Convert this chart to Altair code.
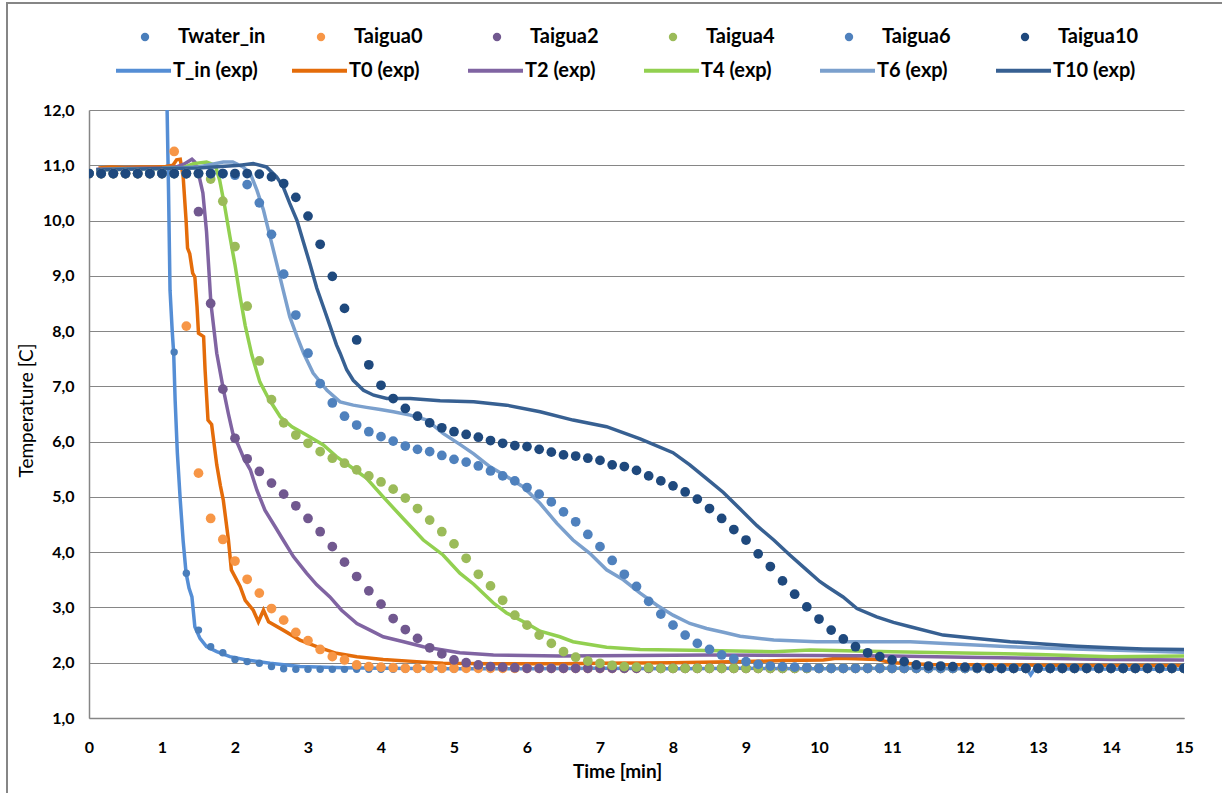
import altair as alt
import pandas as pd

# ---------------- dot (model) series: one value every 10 s ----------------
dot_time_s = [0, 10, 20, 30, 40, 50, 60, 70, 80, 90,
              100, 110, 120, 130, 140, 150, 160, 170, 180, 190,
              200, 210, 220, 230, 240, 250, 260, 270, 280, 290,
              300, 310, 320, 330, 340, 350, 360, 370, 380, 390,
              400, 410, 420, 430, 440, 450, 460, 470, 480, 490,
              500, 510, 520, 530, 540, 550, 560, 570, 580, 590,
              600, 610, 620, 630, 640, 650, 660, 670, 680, 690,
              700, 710, 720, 730, 740, 750, 760, 770, 780, 790,
              800, 810, 820, 830, 840, 850, 860, 870, 880, 890,
              900]

twater_in = [10.85, 10.85, 10.85, 10.85, 10.85, 10.85, 10.85, 7.62, 3.62, 2.59,
             2.29, 2.18, 2.06, 2.02, 1.99, 1.93, 1.89, 1.88, 1.88, 1.88,
             1.88, 1.88, 1.88, 1.88, 1.88, 1.88, 1.88, 1.88, 1.88, 1.88,
             1.88, 1.89, 1.89, 1.89, 1.89, 1.89, 1.89, 1.89, 1.89, 1.89,
             1.89, 1.89, 1.89, 1.89, 1.89, 1.89, 1.89, 1.89, 1.89, 1.89,
             1.89, 1.89, 1.89, 1.89, 1.89, 1.89, 1.89, 1.89, 1.89, 1.89,
             1.90, 1.90, 1.90, 1.90, 1.90, 1.90, 1.90, 1.90, 1.90, 1.90,
             1.90, 1.90, 1.90, 1.90, 1.90, 1.90, 1.90, 1.90, 1.90, 1.90,
             1.90, 1.90, 1.90, 1.90, 1.90, 1.90, 1.90, 1.90, 1.90, 1.90,
             1.90]

taigua0 = [10.85, 10.85, 10.85, 10.85, 10.85, 10.85, 10.85, 11.25, 8.09, 5.43,
           4.61, 4.23, 3.84, 3.51, 3.26, 2.98, 2.77, 2.55, 2.40, 2.24,
           2.11, 2.05, 1.96, 1.93, 1.92, 1.91, 1.90, 1.90, 1.90, 1.90,
           1.90, 1.90, 1.90, 1.90, 1.90, 1.90, 1.90, 1.90, 1.90, 1.90,
           1.90, 1.90, 1.90, 1.90, 1.90, 1.90, 1.90, 1.90, 1.90, 1.90,
           1.90, 1.90, 1.90, 1.90, 1.90, 1.90, 1.90, 1.90, 1.90, 1.90,
           1.90, 1.90, 1.90, 1.90, 1.90, 1.90, 1.90, 1.90, 1.90, 1.90,
           1.90, 1.90, 1.90, 1.90, 1.90, 1.90, 1.90, 1.90, 1.90, 1.90,
           1.90, 1.90, 1.90, 1.90, 1.90, 1.90, 1.90, 1.90, 1.90, 1.90,
           1.90]

taigua2 = [10.85, 10.85, 10.85, 10.85, 10.85, 10.85, 10.85, 10.85, 10.85, 10.16,
           8.50, 6.95, 6.06, 5.69, 5.46, 5.25, 5.05, 4.84, 4.61, 4.37,
           4.10, 3.82, 3.56, 3.30, 3.06, 2.80, 2.60, 2.44, 2.27, 2.16,
           2.05, 2.00, 1.96, 1.93, 1.92, 1.91, 1.90, 1.90, 1.90, 1.90,
           1.90, 1.90, 1.90, 1.90, 1.90, 1.90, 1.90, 1.90, 1.90, 1.90,
           1.90, 1.90, 1.90, 1.90, 1.90, 1.90, 1.90, 1.90, 1.90, 1.90,
           1.90, 1.90, 1.90, 1.90, 1.90, 1.90, 1.90, 1.90, 1.90, 1.90,
           1.90, 1.90, 1.90, 1.90, 1.90, 1.90, 1.90, 1.90, 1.90, 1.90,
           1.90, 1.90, 1.90, 1.90, 1.90, 1.90, 1.90, 1.90, 1.90, 1.90,
           1.90]

taigua4 = [10.85, 10.85, 10.85, 10.85, 10.85, 10.85, 10.85, 10.85, 10.85, 10.85,
           10.75, 10.35, 9.53, 8.45, 7.46, 6.76, 6.34, 6.12, 5.97, 5.82,
           5.70, 5.61, 5.49, 5.38, 5.27, 5.14, 4.98, 4.79, 4.58, 4.37,
           4.15, 3.89, 3.60, 3.39, 3.13, 2.86, 2.68, 2.50, 2.35, 2.20,
           2.10, 2.03, 1.99, 1.95, 1.93, 1.92, 1.91, 1.90, 1.90, 1.90,
           1.90, 1.90, 1.90, 1.90, 1.90, 1.90, 1.90, 1.90, 1.90, 1.90,
           1.90, 1.90, 1.90, 1.90, 1.90, 1.90, 1.90, 1.90, 1.90, 1.90,
           1.90, 1.90, 1.90, 1.90, 1.90, 1.90, 1.90, 1.90, 1.90, 1.90,
           1.90, 1.90, 1.90, 1.90, 1.90, 1.90, 1.90, 1.90, 1.90, 1.90,
           1.90]

taigua6 = [10.85, 10.85, 10.85, 10.85, 10.85, 10.85, 10.85, 10.85, 10.85, 10.85,
           10.85, 10.85, 10.82, 10.65, 10.32, 9.75, 9.03, 8.29, 7.60, 7.05,
           6.70, 6.46, 6.30, 6.18, 6.09, 6.01, 5.92, 5.86, 5.82, 5.75,
           5.68, 5.63, 5.56, 5.47, 5.38, 5.29, 5.17, 5.05, 4.91, 4.73,
           4.55, 4.32, 4.10, 3.85, 3.60, 3.38, 3.11, 2.88, 2.68, 2.50,
           2.35, 2.24, 2.14, 2.07, 2.02, 1.97, 1.94, 1.93, 1.92, 1.91,
           1.90, 1.90, 1.90, 1.90, 1.90, 1.90, 1.90, 1.90, 1.90, 1.90,
           1.90, 1.90, 1.90, 1.90, 1.90, 1.90, 1.90, 1.90, 1.90, 1.90,
           1.90, 1.90, 1.90, 1.90, 1.90, 1.90, 1.90, 1.90, 1.90, 1.90,
           1.90]

taigua10 = [10.85, 10.85, 10.85, 10.85, 10.85, 10.85, 10.85, 10.85, 10.85, 10.85,
            10.85, 10.85, 10.85, 10.85, 10.84, 10.79, 10.67, 10.42, 10.08, 9.57,
            8.99, 8.41, 7.84, 7.39, 7.02, 6.78, 6.60, 6.46, 6.34, 6.25,
            6.18, 6.13, 6.08, 6.02, 5.97, 5.93, 5.91, 5.86, 5.81, 5.76,
            5.74, 5.70, 5.66, 5.58, 5.55, 5.48, 5.38, 5.29, 5.20, 5.09,
            4.96, 4.79, 4.61, 4.41, 4.22, 3.97, 3.74, 3.48, 3.24, 3.01,
            2.79, 2.59, 2.43, 2.29, 2.18, 2.11, 2.05, 2.02, 1.96, 1.94,
            1.94, 1.93, 1.92, 1.91, 1.90, 1.90, 1.90, 1.90, 1.90, 1.90,
            1.90, 1.90, 1.90, 1.90, 1.90, 1.90, 1.90, 1.90, 1.90, 1.90,
            1.90]

# ---------------- experimental (line) series ----------------
t_in_t = [0.10, 0.50, 1.00, 1.05, 1.07, 1.09, 1.11, 1.14, 1.16, 1.18, 1.21, 1.25, 1.29,
          1.33, 1.37, 1.41, 1.45, 1.52, 1.61, 1.75, 1.93, 2.16, 2.48, 2.89, 3.50, 4.00,
          5.00, 6.00, 7.00, 8.00, 9.00, 10.00, 11.00, 12.00, 12.85, 12.90, 12.95, 13.50,
          14.00, 15.00]
t_in_v = [13.50, 13.50, 13.50, 13.00, 12.00, 10.50, 8.74, 8.00, 7.60, 6.75, 5.80, 4.94, 4.20,
          3.62, 3.35, 3.19, 2.65, 2.44, 2.29, 2.20, 2.11, 2.05, 1.99, 1.93, 1.91, 1.90,
          1.89, 1.89, 1.90, 1.89, 1.90, 1.89, 1.90, 1.89, 1.88, 1.78, 1.88, 1.89,
          1.88, 1.88]

t0_t = [0.13, 0.30, 0.50, 0.70, 0.90, 1.05, 1.15, 1.20, 1.25, 1.29, 1.33, 1.35, 1.38, 1.42,
        1.45, 1.48, 1.50, 1.57, 1.59, 1.63, 1.68, 1.75, 1.80, 1.84, 1.91, 1.95, 2.07, 2.14,
        2.25, 2.32, 2.39, 2.46, 2.66, 2.89, 3.12, 3.39, 3.67, 4.03, 4.49, 4.85, 5.50, 6.50,
        7.00, 8.00, 9.00, 9.50, 10.06, 10.24, 10.50, 10.79, 11.00, 11.50, 12.50, 13.50, 15.00]
t0_v = [10.95, 10.97, 10.96, 10.97, 10.97, 10.98, 11.00, 11.10, 11.11, 10.79, 10.00, 9.50, 9.40, 9.05,
        8.98, 8.44, 7.96, 7.90, 7.30, 6.39, 6.31, 5.58, 5.20, 4.94, 4.22, 3.68, 3.38, 3.13,
        2.95, 2.74, 2.95, 2.74, 2.59, 2.41, 2.29, 2.17, 2.11, 2.06, 2.02, 1.99, 1.98, 1.98,
        1.99, 2.00, 2.02, 2.04, 2.05, 2.08, 2.07, 2.06, 2.00, 1.97, 1.96, 1.95, 1.95]

t2_t = [0.10, 0.50, 1.00, 1.20, 1.30, 1.41, 1.45, 1.50, 1.56, 1.61, 1.67, 1.75, 1.84, 1.91,
        1.97, 2.05, 2.12, 2.21, 2.30, 2.41, 2.55, 2.66, 2.80, 2.98, 3.12, 3.30, 3.46, 3.67,
        3.85, 4.03, 4.31, 4.58, 4.85, 5.08, 5.54, 6.45, 7.50, 8.50, 10.00, 11.00, 12.00,
        13.00, 14.00, 15.00]
t2_v = [10.93, 10.94, 10.95, 10.97, 11.02, 11.11, 11.06, 10.85, 10.50, 9.80, 8.50, 7.60, 6.95, 6.50,
        6.15, 5.92, 5.70, 5.49, 5.12, 4.76, 4.46, 4.22, 3.92, 3.62, 3.41, 3.19, 2.95, 2.71,
        2.59, 2.47, 2.38, 2.29, 2.23, 2.18, 2.14, 2.12, 2.13, 2.14, 2.13, 2.12, 2.10,
        2.08, 2.06, 2.05]

t4_t = [0.10, 0.50, 1.00, 1.30, 1.43, 1.61, 1.73, 1.79, 1.86, 1.93, 2.00, 2.07, 2.14, 2.23,
        2.34, 2.46, 2.62, 2.78, 2.98, 3.21, 3.39, 3.58, 3.80, 4.03, 4.31, 4.58, 4.85, 5.08,
        5.27, 5.54, 5.72, 6.00, 6.18, 6.45, 6.63, 7.09, 7.55, 8.46, 9.38, 9.88, 11.00,
        12.16, 13.00, 14.00, 15.00]
t4_v = [10.92, 10.93, 10.94, 10.96, 11.03, 11.06, 11.00, 10.73, 10.25, 9.71, 9.20, 8.62, 8.10, 7.57,
        7.08, 6.78, 6.45, 6.27, 6.12, 5.94, 5.73, 5.55, 5.34, 5.00, 4.60, 4.22, 3.95, 3.62,
        3.42, 3.08, 2.90, 2.71, 2.57, 2.47, 2.38, 2.28, 2.24, 2.22, 2.20, 2.23, 2.20,
        2.17, 2.15, 2.11, 2.12]

t6_t = [0.10, 0.50, 1.00, 1.50, 1.84, 1.97, 2.11, 2.21, 2.30, 2.39, 2.48, 2.57, 2.66, 2.75,
        2.85, 2.94, 3.07, 3.26, 3.44, 3.62, 3.80, 3.99, 4.17, 4.40, 4.63, 4.85, 5.08, 5.27,
        5.49, 5.72, 5.95, 6.18, 6.41, 6.63, 6.86, 7.09, 7.32, 7.55, 7.78, 8.00, 8.23, 8.46,
        8.69, 8.92, 9.38, 9.97, 11.25, 12.00, 12.62, 13.50, 14.44, 15.00]
t6_v = [10.92, 10.93, 10.94, 10.97, 11.06, 11.06, 10.97, 10.85, 10.55, 10.19, 9.71, 9.23, 8.74, 8.26,
        7.90, 7.60, 7.24, 6.93, 6.72, 6.66, 6.62, 6.58, 6.54, 6.48, 6.39, 6.15, 5.95, 5.78,
        5.55, 5.37, 5.18, 4.88, 4.52, 4.22, 3.98, 3.68, 3.50, 3.26, 3.04, 2.86, 2.71, 2.62,
        2.55, 2.48, 2.41, 2.38, 2.38, 2.33, 2.29, 2.25, 2.21, 2.19]

t10_t = [0.10, 0.50, 1.00, 1.50, 2.07, 2.25, 2.43, 2.57, 2.66, 2.75, 2.85, 2.94, 3.03, 3.12,
         3.21, 3.30, 3.39, 3.44, 3.53, 3.62, 3.76, 3.90, 4.08, 4.40, 4.81, 5.27, 5.72, 6.18,
         6.63, 7.09, 7.55, 8.00, 8.23, 8.46, 8.69, 8.92, 9.15, 9.38, 9.60, 9.83, 10.01, 10.11,
         10.33, 10.52, 10.79, 11.02, 11.25, 11.70, 12.16, 12.62, 13.07, 13.53, 13.99, 14.44, 15.00]
t10_v = [10.92, 10.93, 10.94, 10.95, 11.00, 11.03, 10.97, 10.79, 10.61, 10.31, 10.00, 9.60, 9.20, 8.78,
         8.44, 8.10, 7.75, 7.60, 7.30, 7.11, 6.93, 6.84, 6.78, 6.78, 6.74, 6.72, 6.66, 6.54,
         6.39, 6.27, 6.05, 5.80, 5.58, 5.33, 5.08, 4.78, 4.48, 4.22, 3.95, 3.68, 3.47, 3.38,
         3.19, 2.98, 2.83, 2.73, 2.65, 2.50, 2.44, 2.38, 2.34, 2.30, 2.27, 2.25, 2.24]

dot_names = ["Twater_in", "Taigua0", "Taigua2", "Taigua4", "Taigua6", "Taigua10"]
dot_colors = ["#4A7EBB", "#F79646", "#71588F", "#9BBB59", "#4F81BD", "#1F497D"]
line_names = ["T_in (exp)", "T0 (exp)", "T2 (exp)", "T4 (exp)", "T6 (exp)", "T10 (exp)"]
line_colors = ["#558ED5", "#E46C0A", "#8064A2", "#92D050", "#7BA0CD", "#376092"]

dot_values = [twater_in, taigua0, taigua2, taigua4, taigua6, taigua10]
line_series = [(t_in_t, t_in_v), (t0_t, t0_v), (t2_t, t2_v),
               (t4_t, t4_v), (t6_t, t6_v), (t10_t, t10_v)]

for vals in dot_values:
    assert len(vals) == len(dot_time_s), len(vals)
for tt, vv in line_series:
    assert len(tt) == len(vv), (len(tt), len(vv))

dot_rows = []
for name, vals in zip(dot_names, dot_values):
    for s, v in zip(dot_time_s, vals):
        dot_rows.append({"t": s / 60.0, "T": v, "series": name})
dots_df = pd.DataFrame(dot_rows)

line_rows = []
for name, (tt, vv) in zip(line_names, line_series):
    for t, v in zip(tt, vv):
        line_rows.append({"t": t, "T": v, "series": name})
lines_df = pd.DataFrame(line_rows)

FONT = "Lato"
GREY = "#868686"

x_enc = alt.X("t:Q", scale=alt.Scale(domain=[0, 15], nice=False),
              axis=alt.Axis(values=list(range(0, 16)), format="d", labelFlush=False,
                            title="Time [min]", grid=False,
                            ticks=False, domainColor=GREY, domainWidth=1.5,
                            labelFont=FONT, labelFontSize=16, labelFontWeight="bold",
                            labelColor="black", labelPadding=21,
                            titleFont=FONT, titleFontSize=19, titleFontWeight="bold",
                            titleColor="black", titleX=528, titleY=53,
                            titleAlign="center", titleBaseline="middle"))
y_enc = alt.Y("T:Q", scale=alt.Scale(domain=[1, 12], nice=False),
              axis=alt.Axis(values=list(range(1, 13)), title="Temperature [C]",
                            grid=True, gridColor=GREY, gridWidth=1.2, ticks=False,
                            domainColor=GREY, domainWidth=1.5,
                            labelExpr="replace(format(datum.value, '.1f'), '.', ',')",
                            labelFont=FONT, labelFontSize=16, labelFontWeight="bold",
                            labelColor="black", labelPadding=15,
                            titleFont=FONT, titleFontSize=19, titleFontWeight="normal",
                            titleColor="black", titleX=-63, titleY=300, titleAngle=-90,
                            titleAlign="center", titleBaseline="middle"))

line_legend = alt.Legend(title=None, orient="none", legendX=25, legendY=-69,
                         direction="horizontal", columns=6, gridAlign="all",
                         columnPadding=26, symbolType="stroke", symbolSize=3025,
                         symbolStrokeWidth=4, labelOffset=0, labelFont=FONT,
                         labelFontSize=20, labelFontWeight="bold", labelColor="black",
                         padding=0, rowPadding=0, labelLimit=300)
dot_legend = alt.Legend(title=None, orient="none", legendX=46, legendY=-83,
                        direction="horizontal", columns=6, gridAlign="all",
                        columnPadding=45, symbolType="circle", symbolSize=70,
                        symbolStrokeWidth=0, labelOffset=23, labelFont=FONT,
                        labelFontSize=20, labelFontWeight="bold", labelColor="black",
                        padding=0, rowPadding=0, labelLimit=300)

lines = alt.Chart(lines_df).mark_line(strokeWidth=3.5, clip=True).encode(
    x=x_enc, y=y_enc,
    stroke=alt.Stroke("series:N", scale=alt.Scale(domain=line_names, range=line_colors),
                      legend=line_legend),
    order=alt.Order("t:Q"),
)

dots_main = alt.Chart(dots_df[dots_df.series != "Twater_in"]).mark_circle(
    size=95, opacity=1, clip=True).encode(
    x="t:Q", y="T:Q",
    fill=alt.Fill("series:N", scale=alt.Scale(domain=dot_names, range=dot_colors),
                  legend=dot_legend),
)
dots_water = alt.Chart(dots_df[dots_df.series == "Twater_in"]).mark_circle(
    size=55, opacity=1, clip=True).encode(
    x="t:Q", y="T:Q",
    fill=alt.Fill("series:N", scale=alt.Scale(domain=dot_names, range=dot_colors),
                  legend=dot_legend),
)

frame = alt.Chart(pd.DataFrame({"k": [0]})).mark_rect(
    filled=False, stroke=GREY, strokeWidth=2).encode(
    x=alt.value(-82), x2=alt.value(1200), y=alt.value(-107), y2=alt.value(720))

chart = alt.layer(frame, lines, dots_water, dots_main).properties(
    width=1095, height=608,
    autosize=alt.AutoSizeParams(type="none"),
    padding={"left": 89, "top": 110, "right": 38, "bottom": 75},
    background="white",
).configure_view(stroke=None)

chart.save("out.html", embed_options={"renderer": "svg", "actions": False})
